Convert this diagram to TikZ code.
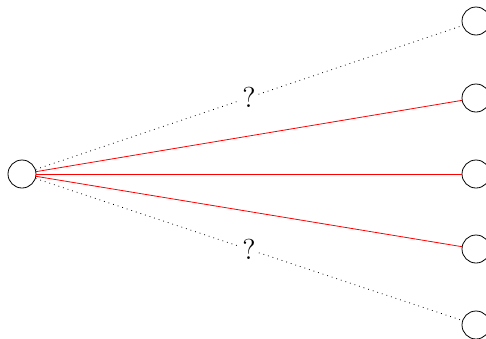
\documentclass[tikz,border=0pt]{standalone}
\begin{document}
\begin{tikzpicture}[x=0.5pt,y=-0.5pt,
  vert/.style={circle,draw,minimum size=14pt,inner sep=0pt},
  known/.style={red},
  unknown/.style={dotted},
  qlab/.style={fill=white,inner sep=1pt,font=\Large}]
\useasboundingbox (0,0) rectangle (486,338);
\node[vert] (s) at (22,174) {};
\node[vert] (t1) at (476,21) {};
\node[vert] (t2) at (476,98) {};
\node[vert] (t3) at (476,174) {};
\node[vert] (t4) at (476,249) {};
\node[vert] (t5) at (476,325) {};
\draw[unknown] (s) -- node[qlab] {?} (t1);
\draw[known] (s) -- (t2);
\draw[known] (s) -- (t3);
\draw[known] (s) -- (t4);
\draw[unknown] (s) -- node[qlab] {?} (t5);
\end{tikzpicture}
\end{document}
